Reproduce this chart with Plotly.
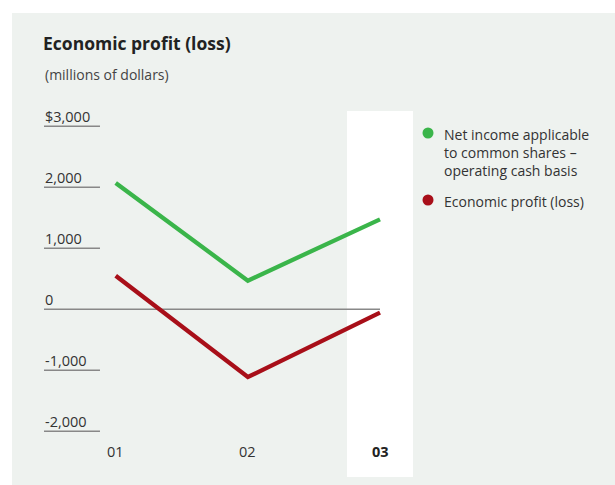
import plotly.graph_objects as go

# Fiscal years and series values (millions of dollars)
years = ["01", "02", "03"]
net_income = [2070, 470, 1475]
economic_profit = [550, -1110, -55]

y_ticks = [3000, 2000, 1000, 0, -1000, -2000]
y_tick_labels = ["$3,000", "2,000", "1,000", "0", "-1,000", "-2,000"]

series_names = [
    "Net income applicable<br>to common shares –<br>operating cash basis",
    "Economic profit (loss)",
]
GREEN = "#3ab54a"
RED = "#a80f19"
PANEL = "#eef2ef"
TEXT = "#333333"
FONT = "Open Sans"

W, H = 615, 485
px = lambda v: v / W          # horizontal pixel -> paper
py = lambda v: 1 - v / H      # vertical pixel -> paper

idx = list(range(len(years)))

fig = go.Figure()

# data lines
for vals, color in [(net_income, GREEN), (economic_profit, RED)]:
    fig.add_trace(go.Scatter(
        x=idx, y=vals, mode="lines",
        line=dict(color=color, width=4.3),
        showlegend=False, hoverinfo="skip",
    ))

shapes = [
    # grey background panel
    dict(type="rect", xref="paper", yref="paper", x0=px(12), x1=1, y0=0, y1=py(13),
         fillcolor=PANEL, line_width=0, layer="below"),
    # highlighted latest-year column
    dict(type="rect", xref="x", yref="y domain", x0=1.75, x1=2.25, y0=0, y1=1,
         fillcolor="white", line_width=0, layer="below"),
]

x_left = -0.5426
annotations = []
for v, lab in zip(y_ticks, y_tick_labels):
    x_end = idx[-1] if v == 0 else -0.119
    shapes.append(dict(type="line", xref="x", yref="y", x0=x_left, x1=x_end, y0=v, y1=v,
                       line=dict(color="#888888", width=1.6), layer="below"))
    annotations.append(dict(text=lab, xref="paper", yref="y", x=px(43), y=v,
                            xanchor="left", yanchor="middle", yshift=10, showarrow=False,
                            font=dict(family=FONT, size=14.5, color=TEXT)))

for i, yr in enumerate(years):
    last = i == len(years) - 1
    annotations.append(dict(text=f"<b>{yr}</b>" if last else yr, xref="x", yref="paper",
                            x=i, y=py(451), xanchor="center", yanchor="middle",
                            showarrow=False,
                            font=dict(family=FONT, size=14.5,
                                      color="#222222" if last else TEXT)))

annotations.append(dict(text="<b>Economic profit (loss)</b>", xref="paper", yref="paper",
                        x=px(41), y=py(43), xanchor="left", yanchor="middle",
                        showarrow=False, font=dict(family=FONT, size=17.5, color="#222222")))
annotations.append(dict(text="(millions of dollars)", xref="paper", yref="paper",
                        x=px(43), y=py(74), xanchor="left", yanchor="middle",
                        showarrow=False, font=dict(family=FONT, size=14, color="#444444")))

# legend: coloured dot followed by the series name
LEG_SIZE = 14
line_h = 1.3 * LEG_SIZE
legend_rows = [134, 201]
for name, color, row in zip(series_names, [GREEN, RED], legend_rows):
    shapes.append(dict(type="circle", xref="paper", yref="paper",
                       x0=px(428 - 5.5), x1=px(428 + 5.5), y0=py(row - 1 + 5.5), y1=py(row - 1 - 5.5),
                       fillcolor=color, line_width=0))
    n_lines = name.count("<br>") + 1
    annotations.append(dict(text=name, xref="paper", yref="paper", align="left",
                            x=px(442), y=py(row + line_h * (n_lines - 1) / 2),
                            xanchor="left", yanchor="middle", showarrow=False,
                            font=dict(family=FONT, size=LEG_SIZE, color=TEXT)))

fig.update_layout(
    width=W, height=H,
    margin=dict(l=0, r=0, t=0, b=0),
    paper_bgcolor="white",
    plot_bgcolor="rgba(0,0,0,0)",
    xaxis=dict(domain=[px(44), px(413)], range=[x_left, 2.2497], visible=False),
    yaxis=dict(domain=[8 / H, 374 / H], range=[-2749, 3251], visible=False),
    shapes=shapes,
    annotations=annotations,
    showlegend=False,
)

fig.write_html("out.html")
